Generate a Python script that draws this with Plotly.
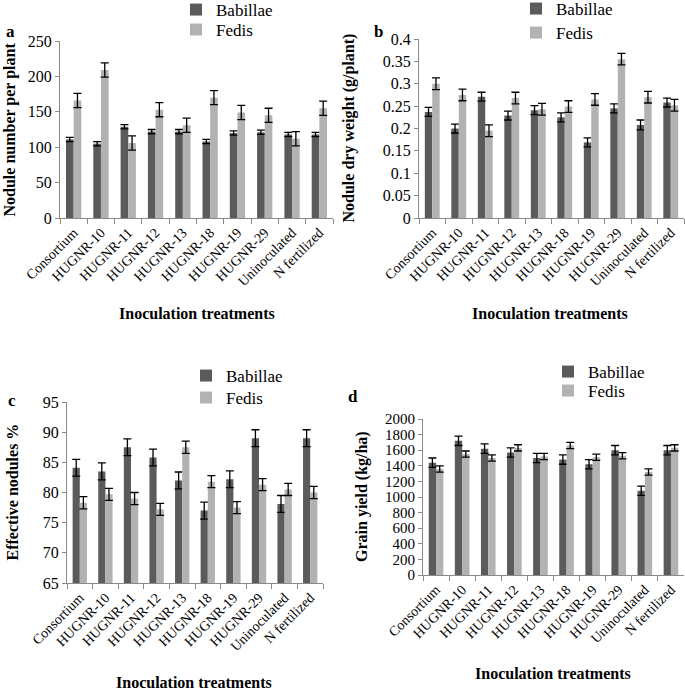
import plotly.graph_objects as go

categories = ["Consortium", "HUGNR-10", "HUGNR-11", "HUGNR-12", "HUGNR-13",
              "HUGNR-18", "HUGNR-19", "HUGNR-29", "Uninoculated", "N fertilized"]

# Panel a: nodule number per plant
a_bab = [111, 105, 129, 122, 122, 108, 120, 121, 118, 118]
a_bab_err = [3, 3, 3, 3, 3, 3, 3, 3, 3, 3]
a_fed = [166, 209, 106, 153, 131, 170, 149, 145, 112, 155]
a_fed_err = [10, 10, 10, 10, 10, 10, 10, 10, 10, 10]

# Panel b: nodule dry weight (g/plant)
b_bab = [0.237, 0.200, 0.271, 0.229, 0.241, 0.225, 0.169, 0.245, 0.208, 0.258]
b_bab_err = [0.010, 0.010, 0.010, 0.010, 0.010, 0.010, 0.010, 0.010, 0.011, 0.010]
b_fed = [0.300, 0.275, 0.195, 0.268, 0.243, 0.249, 0.265, 0.355, 0.270, 0.252]
b_fed_err = [0.013, 0.013, 0.013, 0.013, 0.013, 0.013, 0.013, 0.013, 0.013, 0.013]

# Panel c: effective nodules %
c_bab = [84.1, 83.5, 87.5, 85.8, 82.0, 77.0, 82.2, 89.0, 78.1, 89.0]
c_bab_err = [1.4, 1.4, 1.4, 1.4, 1.4, 1.4, 1.4, 1.4, 1.4, 1.4]
c_fed = [78.3, 79.7, 79.0, 77.2, 87.5, 81.8, 77.5, 81.3, 80.5, 80.0]
c_fed_err = [1.0, 1.0, 1.0, 1.0, 1.0, 1.0, 1.0, 1.0, 1.0, 1.0]

# Panel d: grain yield (kg/ha)
d_bab = [1440, 1720, 1620, 1570, 1500, 1480, 1420, 1600, 1080, 1600]
d_bab_err = [60, 60, 60, 60, 60, 60, 60, 60, 60, 60]
d_fed = [1360, 1550, 1500, 1630, 1520, 1660, 1510, 1530, 1320, 1630]
d_fed_err = [40, 40, 40, 40, 40, 40, 40, 40, 40, 40]

series_names = ["Babillae", "Fedis"]
DARK = "#5b5b5b"
LIGHT = "#b2b2b2"
FONT = "Liberation Serif"

W, H = 685, 691

def px_x(v):
    return v / W

def px_y(v):
    return 1 - v / H

LEG_DX = 42   # legend text starts this far right of legend x
LEG_DY = 18   # legend text centre this far below legend top

panels = [
    dict(key="", data=(a_bab, a_bab_err, a_fed, a_fed_err), xd=(60, 333), yd=(41, 218),
         yr=[0, 250], dt=50, title="Nodule number per plant", letter="a",
         letter_pos=(10, 32), leg_text_x=218, leg_ys=(10, 30), xt=(197, 314), yt=10),
    dict(key="2", data=(b_bab, b_bab_err, b_fed, b_fed_err), xd=(419, 684), yd=(39, 218),
         yr=[0, 0.4], dt=0.05, title="Nodule dry weight (g/plant)", letter="b",
         letter_pos=(378, 32), leg_text_x=558, leg_ys=(9, 33), xt=(550, 313), yt=349),
    dict(key="3", data=(c_bab, c_bab_err, c_fed, c_fed_err), xd=(67, 323), yd=(402, 583),
         yr=[65, 95], dt=5, title="Effective nodules %", letter="c",
         letter_pos=(12, 400), leg_text_x=228, leg_ys=(376, 398), xt=(194, 682), yt=12),
    dict(key="4", data=(d_bab, d_bab_err, d_fed, d_fed_err), xd=(423, 684), yd=(419, 575),
         yr=[0, 2000], dt=200, title="Grain yield (kg/ha)", letter="d",
         letter_pos=(353, 396), leg_text_x=590, leg_ys=(372, 391), xt=(553, 673), yt=362),
]

fig = go.Figure()
layout = dict(
    width=W, height=H,
    margin=dict(l=0, r=0, t=0, b=0, autoexpand=False),
    paper_bgcolor="white", plot_bgcolor="white",
    barmode="group", bargap=0.44, bargroupgap=0.0,
    font=dict(family=FONT, color="black"),
    annotations=[],
)

leg_idx = 0
for p in panels:
    k = p["key"]
    bab, bab_err, fed, fed_err = p["data"]
    for si, (name, vals, errs, col) in enumerate([(series_names[0], bab, bab_err, DARK),
                                                  (series_names[1], fed, fed_err, LIGHT)]):
        leg_idx += 1
        leg_name = "legend" if leg_idx == 1 else "legend%d" % leg_idx
        fig.add_trace(go.Bar(
            x=categories, y=vals, name=name,
            marker=dict(color=col, line=dict(width=0)),
            error_y=dict(type="data", array=errs, color="black", thickness=1.3, width=4),
            xaxis="x" + k, yaxis="y" + k, legend=leg_name, showlegend=True,
        ))
        layout[leg_name] = dict(
            x=px_x(p["leg_text_x"] - LEG_DX), y=px_y(p["leg_ys"][si] - LEG_DY),
            xanchor="left", yanchor="top",
            font=dict(family=FONT, size=17, color="black"),
            bgcolor="rgba(0,0,0,0)", itemwidth=30,
        )
    layout["xaxis" + k] = dict(
        domain=[px_x(p["xd"][0]), px_x(p["xd"][1])],
        anchor="y" + k, automargin=False,
        showline=True, linecolor="#8a8a8a", linewidth=1,
        ticks="outside", tickson="boundaries", ticklen=5, tickcolor="#8a8a8a",
        tickangle=-45, tickfont=dict(family=FONT, size=14, color="black"),
        showgrid=False, zeroline=False,
    )
    layout["yaxis" + k] = dict(
        domain=[px_y(p["yd"][1]), px_y(p["yd"][0])],
        anchor="x" + k, automargin=False,
        range=p["yr"], dtick=p["dt"],
        showline=True, linecolor="#8a8a8a", linewidth=1,
        ticks="outside", ticklen=4, tickcolor="#8a8a8a",
        tickfont=dict(family=FONT, size=16 if k != "4" else 15, color="black"),
        showgrid=False, zeroline=False,
    )
    layout["annotations"].append(dict(
        text="<b>" + p["letter"] + "</b>", x=px_x(p["letter_pos"][0]), y=px_y(p["letter_pos"][1]),
        xref="paper", yref="paper", xanchor="center", yanchor="middle", showarrow=False,
        font=dict(family=FONT, size=17, color="black"),
    ))
    layout["annotations"].append(dict(
        text="<b>Inoculation treatments</b>",
        x=px_x(p["xt"][0]), y=px_y(p["xt"][1]),
        xref="paper", yref="paper", xanchor="center", yanchor="middle", showarrow=False,
        font=dict(family=FONT, size=16, color="black"),
    ))
    layout["annotations"].append(dict(
        text="<b>" + p["title"] + "</b>", textangle=-90,
        x=px_x(p["yt"]), y=(px_y(p["yd"][0]) + px_y(p["yd"][1])) / 2,
        xref="paper", yref="paper", xanchor="center", yanchor="middle", showarrow=False,
        font=dict(family=FONT, size=16, color="black"),
    ))

fig.update_layout(**layout)
# remove the browser's default 8px body margin so the 685x691 figure fills the window exactly
fig.write_html("out.html",
               config={"displayModeBar": False},
               post_script="document.body.style.margin='0';document.body.style.overflow='hidden';")
